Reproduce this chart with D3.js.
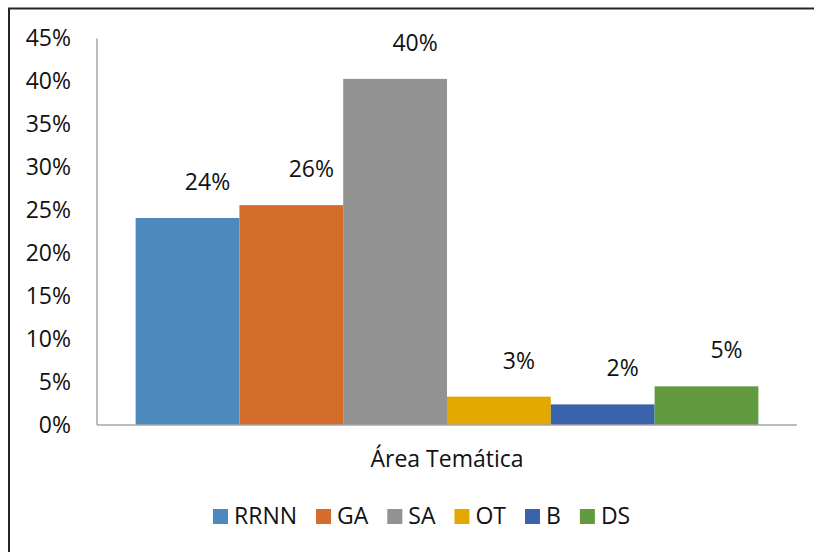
<!DOCTYPE html>
<html>
<head>
<meta charset="utf-8">
<script src="https://cdn.jsdelivr.net/npm/d3@7"></script>
<style>
  body { margin: 0; background: #fff; }
  text { font-family: "Open Sans", sans-serif; fill: #111; }
</style>
</head>
<body>
<div id="chart"></div>
<script>
var svgWidth = 814;
var svgHeight = 552;

// data
var category = "Área Temática";
var seriesNames = ["RRNN", "GA", "SA", "OT", "B", "DS"];
var seriesValues = [0.241, 0.256, 0.403, 0.033, 0.024, 0.045];
var seriesLabels = ["24%", "26%", "40%", "3%", "2%", "5%"];
var yTicks = [0, 0.05, 0.10, 0.15, 0.20, 0.25, 0.30, 0.35, 0.40, 0.45];

var colors = ["#4e89be", "#d46d2a", "#929292", "#e3a800", "#3a63ac", "#619a3f"];

var plot = { left: 97, right: 797, top: 38.5, bottom: 425 };
var fontSize = 23;

var svg = d3.select("#chart")
    .append("svg")
    .attr("width", svgWidth)
    .attr("height", svgHeight);

// frame (only top and left edges show in the window)
svg.append("rect")
    .attr("x", 9)
    .attr("y", 8.5)
    .attr("width", svgWidth + 20)
    .attr("height", svgHeight + 20)
    .attr("fill", "none")
    .attr("stroke", "#262626")
    .attr("stroke-width", 2);

var yScale = d3.scaleLinear()
    .domain([0, 0.45])
    .range([plot.bottom, plot.top]);

var x0 = d3.scaleBand()
    .domain([category])
    .range([plot.left, plot.right])
    .paddingOuter(0.062)
    .paddingInner(0);

var x1 = d3.scaleBand()
    .domain(seriesNames)
    .range([0, x0.bandwidth()]);

// y axis labels
var leftAxis = d3.axisLeft(yScale)
    .tickValues(yTicks)
    .tickFormat(d3.format(".0%"))
    .tickSize(0)
    .tickPadding(26);

var yAxisG = svg.append("g")
    .attr("transform", `translate(${plot.left}, 0)`)
    .call(leftAxis);
yAxisG.select(".domain").remove();
yAxisG.selectAll("text")
    .attr("font-size", fontSize)
    .attr("font-family", "Open Sans, sans-serif")
    .attr("fill", "#111");

// bars
var groupG = svg.append("g")
    .attr("transform", `translate(${x0(category)}, 0)`);

groupG.selectAll("rect")
    .data(seriesNames)
    .enter()
    .append("rect")
    .attr("x", d => x1(d))
    .attr("y", (d, i) => yScale(seriesValues[i]))
    .attr("width", x1.bandwidth())
    .attr("height", (d, i) => plot.bottom - yScale(seriesValues[i]))
    .attr("fill", (d, i) => colors[i]);

groupG.selectAll("text.lbl")
    .data(seriesNames)
    .enter()
    .append("text")
    .attr("class", "lbl")
    .attr("x", d => x1(d) + x1.bandwidth() / 2 + 20)
    .attr("y", (d, i) => yScale(seriesValues[i]) - 28)
    .attr("text-anchor", "middle")
    .attr("font-size", fontSize)
    .text((d, i) => seriesLabels[i]);

// axis lines
svg.append("line")
    .attr("x1", plot.left).attr("x2", plot.left)
    .attr("y1", plot.top).attr("y2", plot.bottom)
    .attr("stroke", "#a6a6a6").attr("stroke-width", 1.5);

svg.append("line")
    .attr("x1", plot.left).attr("x2", plot.right)
    .attr("y1", plot.bottom).attr("y2", plot.bottom)
    .attr("stroke", "#a6a6a6").attr("stroke-width", 1.5);

// category label
svg.append("text")
    .attr("x", (plot.left + plot.right) / 2)
    .attr("y", 467)
    .attr("text-anchor", "middle")
    .attr("font-size", fontSize)
    .text(category);

// legend
var legendG = svg.append("g");
var lx = 213;
seriesNames.forEach(function (name, i) {
    legendG.append("rect")
        .attr("x", lx)
        .attr("y", 509)
        .attr("width", 15)
        .attr("height", 15)
        .attr("fill", colors[i]);
    var t = legendG.append("text")
        .attr("x", lx + 21)
        .attr("y", 524)
        .attr("font-size", fontSize)
        .text(name);
    lx += 21 + t.node().getComputedTextLength() + 19;
});
</script>
</body>
</html>
